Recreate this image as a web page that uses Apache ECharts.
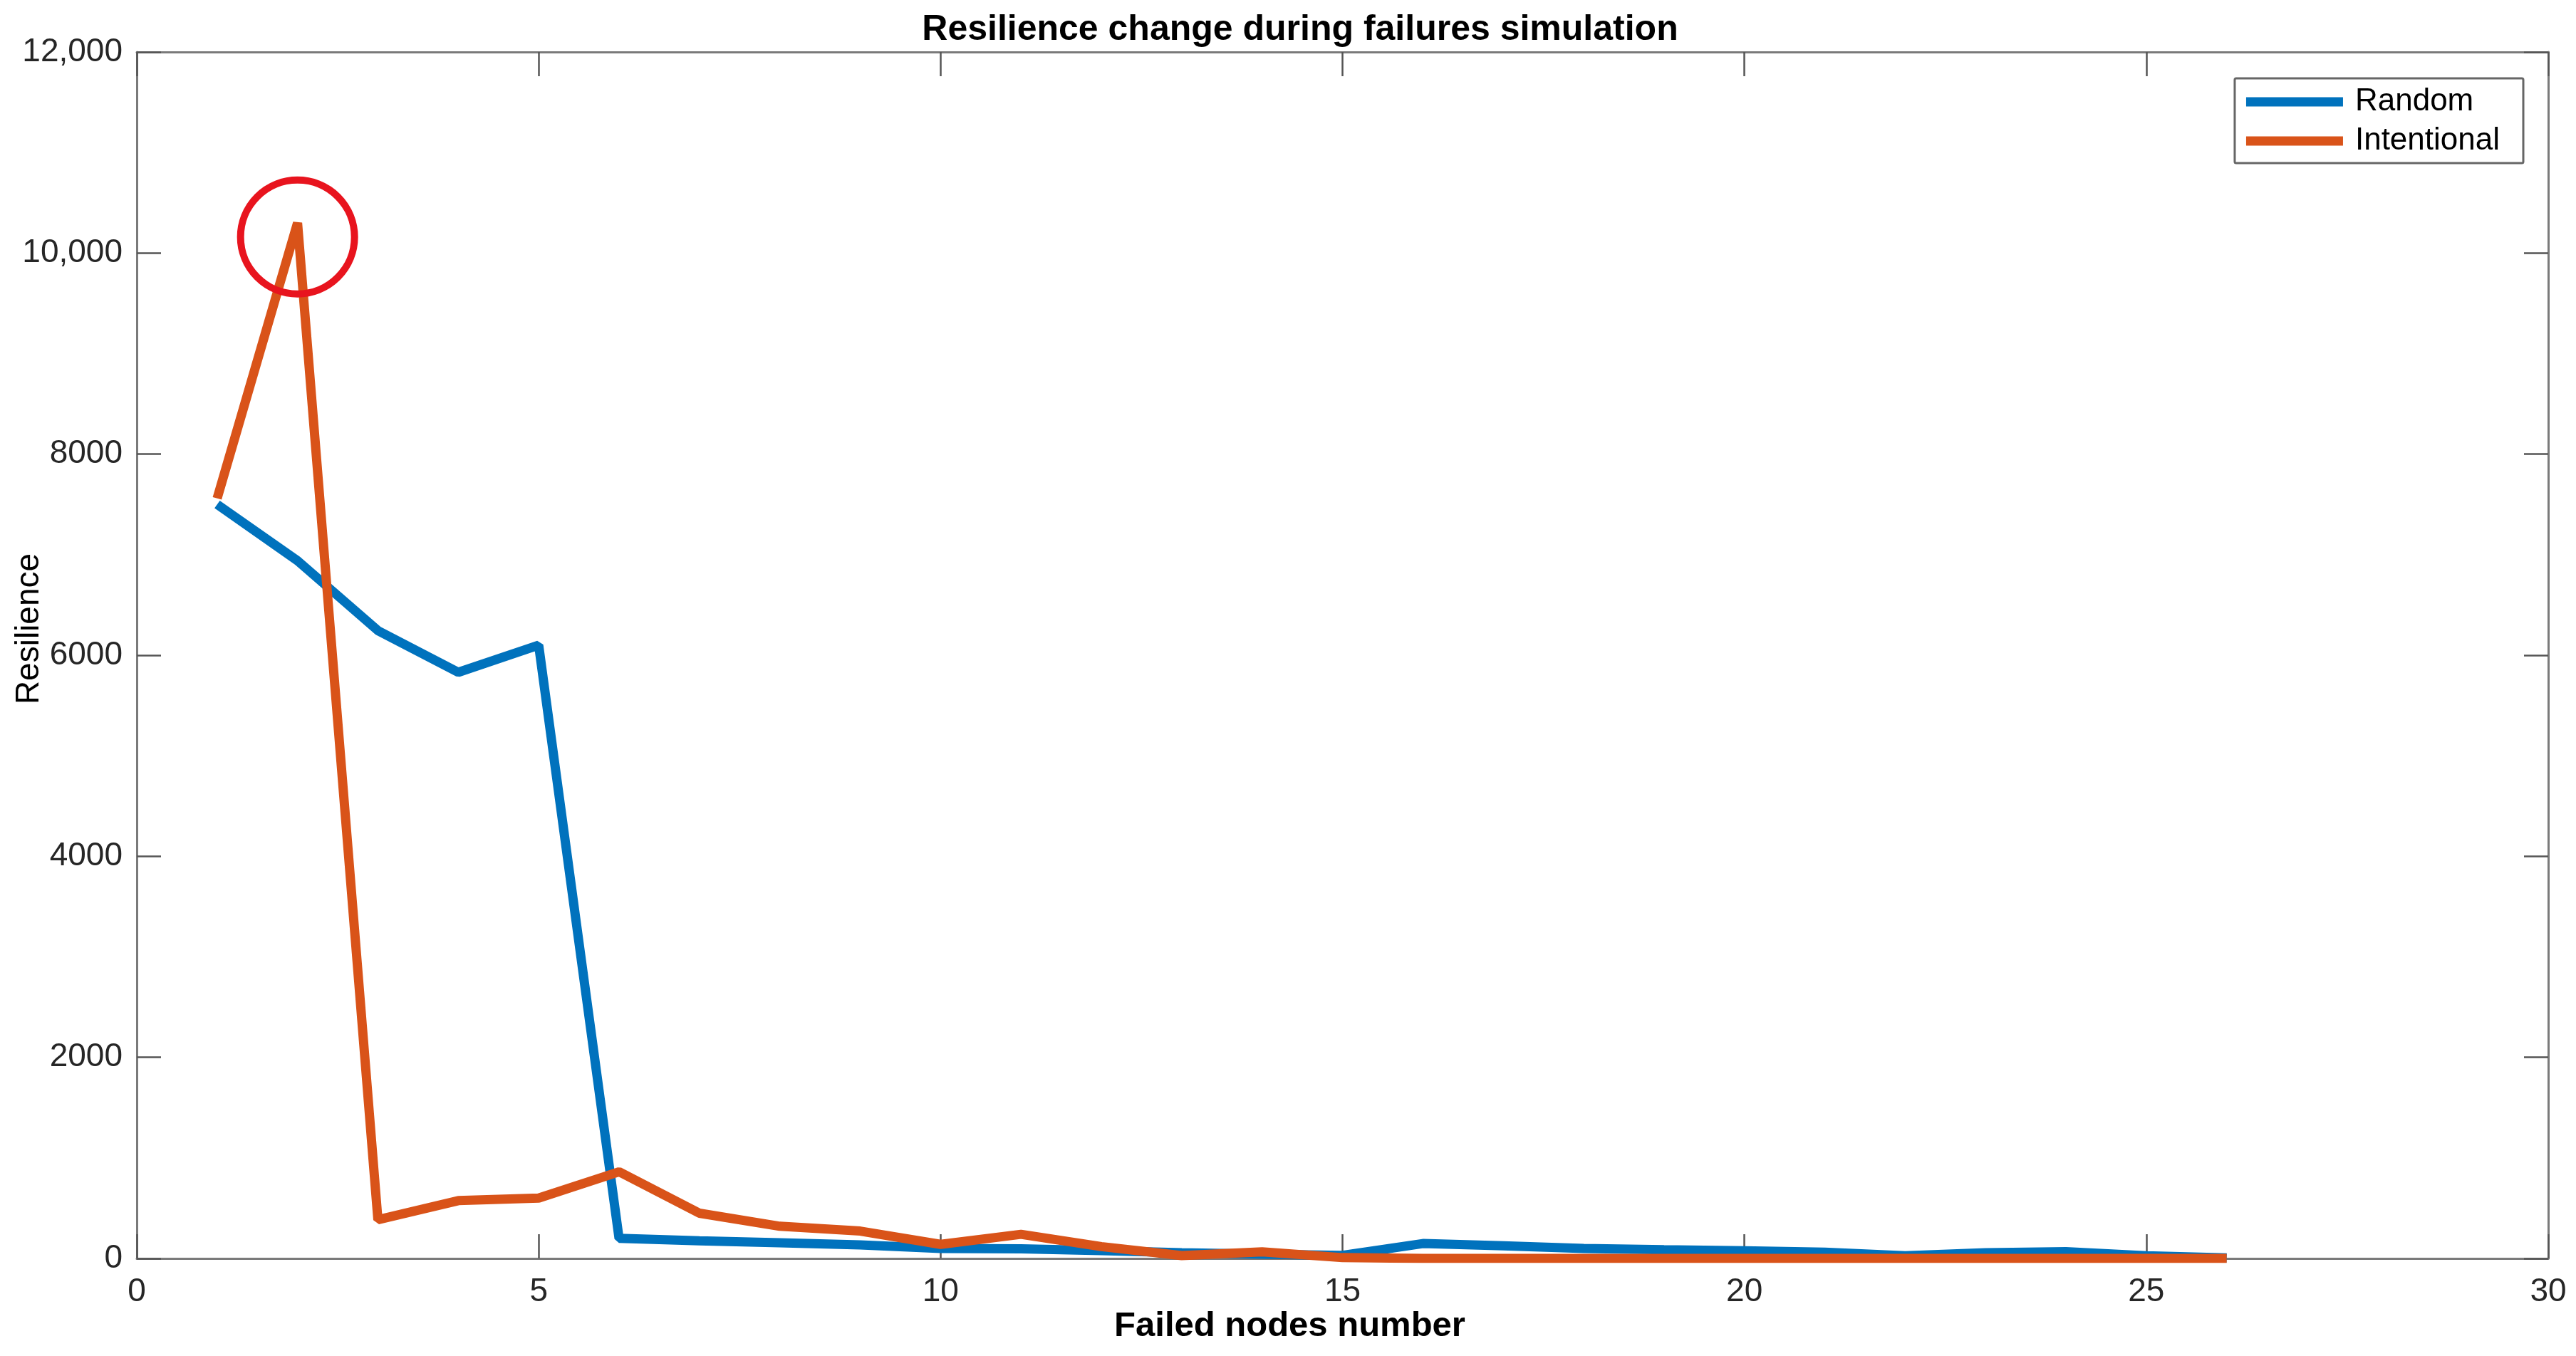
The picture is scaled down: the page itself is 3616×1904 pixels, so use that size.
<!DOCTYPE html>
<html>
<head>
<meta charset="utf-8">
<script src="https://cdn.jsdelivr.net/npm/echarts@6/dist/echarts.min.js"></script>
<style>
html,body{margin:0;padding:0;background:#fff;}
#chart{width:3616px;height:1904px;}
</style>
</head>
<body>
<div id="chart"></div>
<script>
var failedNodes = [1,2,3,4,5,6,7,8,9,10,11,12,13,14,15,16,17,18,19,20,21,22,23,24,25,26];
var randomValues = [7500,6940,6245,5830,6100,200,175,155,135,100,95,78,57,42,30,148,126,100,86,76,62,26,56,68,26,5];
var intentionalValues = [7560,10300,385,575,600,862,450,320,272,140,240,118,28,66,8,0,0,0,0,0,0,0,0,0,0,0];
var highlightPoint = [2, 10160];
var seriesNames = ['Random', 'Intentional'];
var xTicks = {min: 0, max: 30, interval: 5};
var yTicks = {min: 0, max: 12000, interval: 2000};

function pairs(xs, ys) { return xs.map(function (x, i) { return [x, ys[i]]; }); }

var FONT = '"Liberation Sans", Arial, Helvetica, sans-serif';
var AXIS_COLOR = '#7a7a7a';
var LABEL_COLOR = '#262626';

var chart = echarts.init(document.getElementById('chart'), null, {renderer: 'canvas'});

function yFmt(v) { return v >= 10000 ? v.toLocaleString('en-US') : String(v); }

var baseX = {
  type: 'value', min: xTicks.min, max: xTicks.max, interval: xTicks.interval,
  axisLine: {show: true, onZero: false, lineStyle: {color: AXIS_COLOR, width: 3}},
  axisTick: {show: true, inside: true, length: 34, lineStyle: {color: '#555', width: 2.5}},
  splitLine: {show: false}
};
var baseY = {
  type: 'value', min: yTicks.min, max: yTicks.max, interval: yTicks.interval,
  axisLine: {show: true, onZero: false, lineStyle: {color: AXIS_COLOR, width: 3}},
  axisTick: {show: true, inside: true, length: 34, lineStyle: {color: '#555', width: 2.5}},
  splitLine: {show: false}
};

var option = {
  animation: false,
  backgroundColor: '#ffffff',
  textStyle: {fontFamily: FONT},
  title: {
    text: 'Resilience change during failures simulation',
    left: 1820, textAlign: 'center', top: 12,
    textStyle: {fontFamily: FONT, fontWeight: 'bold', fontSize: 50, color: '#000'}
  },
  legend: {
    data: seriesNames,
    orient: 'vertical',
    right: 74, top: 110,
    icon: 'rect',
    itemWidth: 136, itemHeight: 13, itemGap: 11,
    padding: [11, 33, 9, 16],
    borderColor: '#666', borderWidth: 3, borderRadius: 2,
    backgroundColor: '#fff',
    textStyle: {fontFamily: FONT, fontSize: 44, color: '#000', padding: [0, 0, 0, 12]}
  },
  grid: {left: 192, right: 39, top: 73, bottom: 137, containLabel: false, outerBoundsMode: 'none'},
  xAxis: [
    Object.assign({}, baseX, {
      position: 'bottom',
      name: 'Failed nodes number', nameLocation: 'middle', nameGap: 71, nameMoveOverlap: false,
      nameTextStyle: {fontFamily: FONT, fontWeight: 'bold', fontSize: 49, color: '#000', padding: [0, 148, 0, 0]},
      axisLabel: {show: true, margin: 24, fontFamily: FONT, fontSize: 46, color: LABEL_COLOR}
    }),
    Object.assign({}, baseX, {position: 'top', axisLabel: {show: false}})
  ],
  yAxis: [
    Object.assign({}, baseY, {
      position: 'left',
      name: 'Resilience', nameLocation: 'middle', nameGap: 128, nameRotate: 90, nameMoveOverlap: false,
      nameTextStyle: {fontFamily: FONT, fontSize: 46, color: '#000', padding: [0, 0, 0, 74]},
      axisLabel: {show: true, margin: 20, fontFamily: FONT, fontSize: 46, color: LABEL_COLOR, formatter: yFmt}
    }),
    Object.assign({}, baseY, {position: 'right', axisLabel: {show: false}})
  ],
  series: [
    {
      name: seriesNames[0], type: 'line', xAxisIndex: 0, yAxisIndex: 0,
      data: pairs(failedNodes, randomValues),
      showSymbol: false, symbol: 'none',
      lineStyle: {color: '#0072BD', width: 13},
      itemStyle: {color: '#0072BD'},
      z: 2
    },
    {
      name: seriesNames[1], type: 'line', xAxisIndex: 0, yAxisIndex: 0,
      data: pairs(failedNodes, intentionalValues),
      showSymbol: false, symbol: 'none',
      lineStyle: {color: '#D95319', width: 13},
      itemStyle: {color: '#D95319'},
      z: 3
    },
    {
      name: 'highlight', type: 'scatter', xAxisIndex: 0, yAxisIndex: 0,
      data: [highlightPoint],
      symbol: 'circle', symbolSize: 160, silent: true,
      itemStyle: {color: 'rgba(0,0,0,0)', borderColor: '#E8141E', borderWidth: 10, opacity: 1},
      z: 4
    }
  ]
};
chart.setOption(option);
</script>
</body>
</html>
